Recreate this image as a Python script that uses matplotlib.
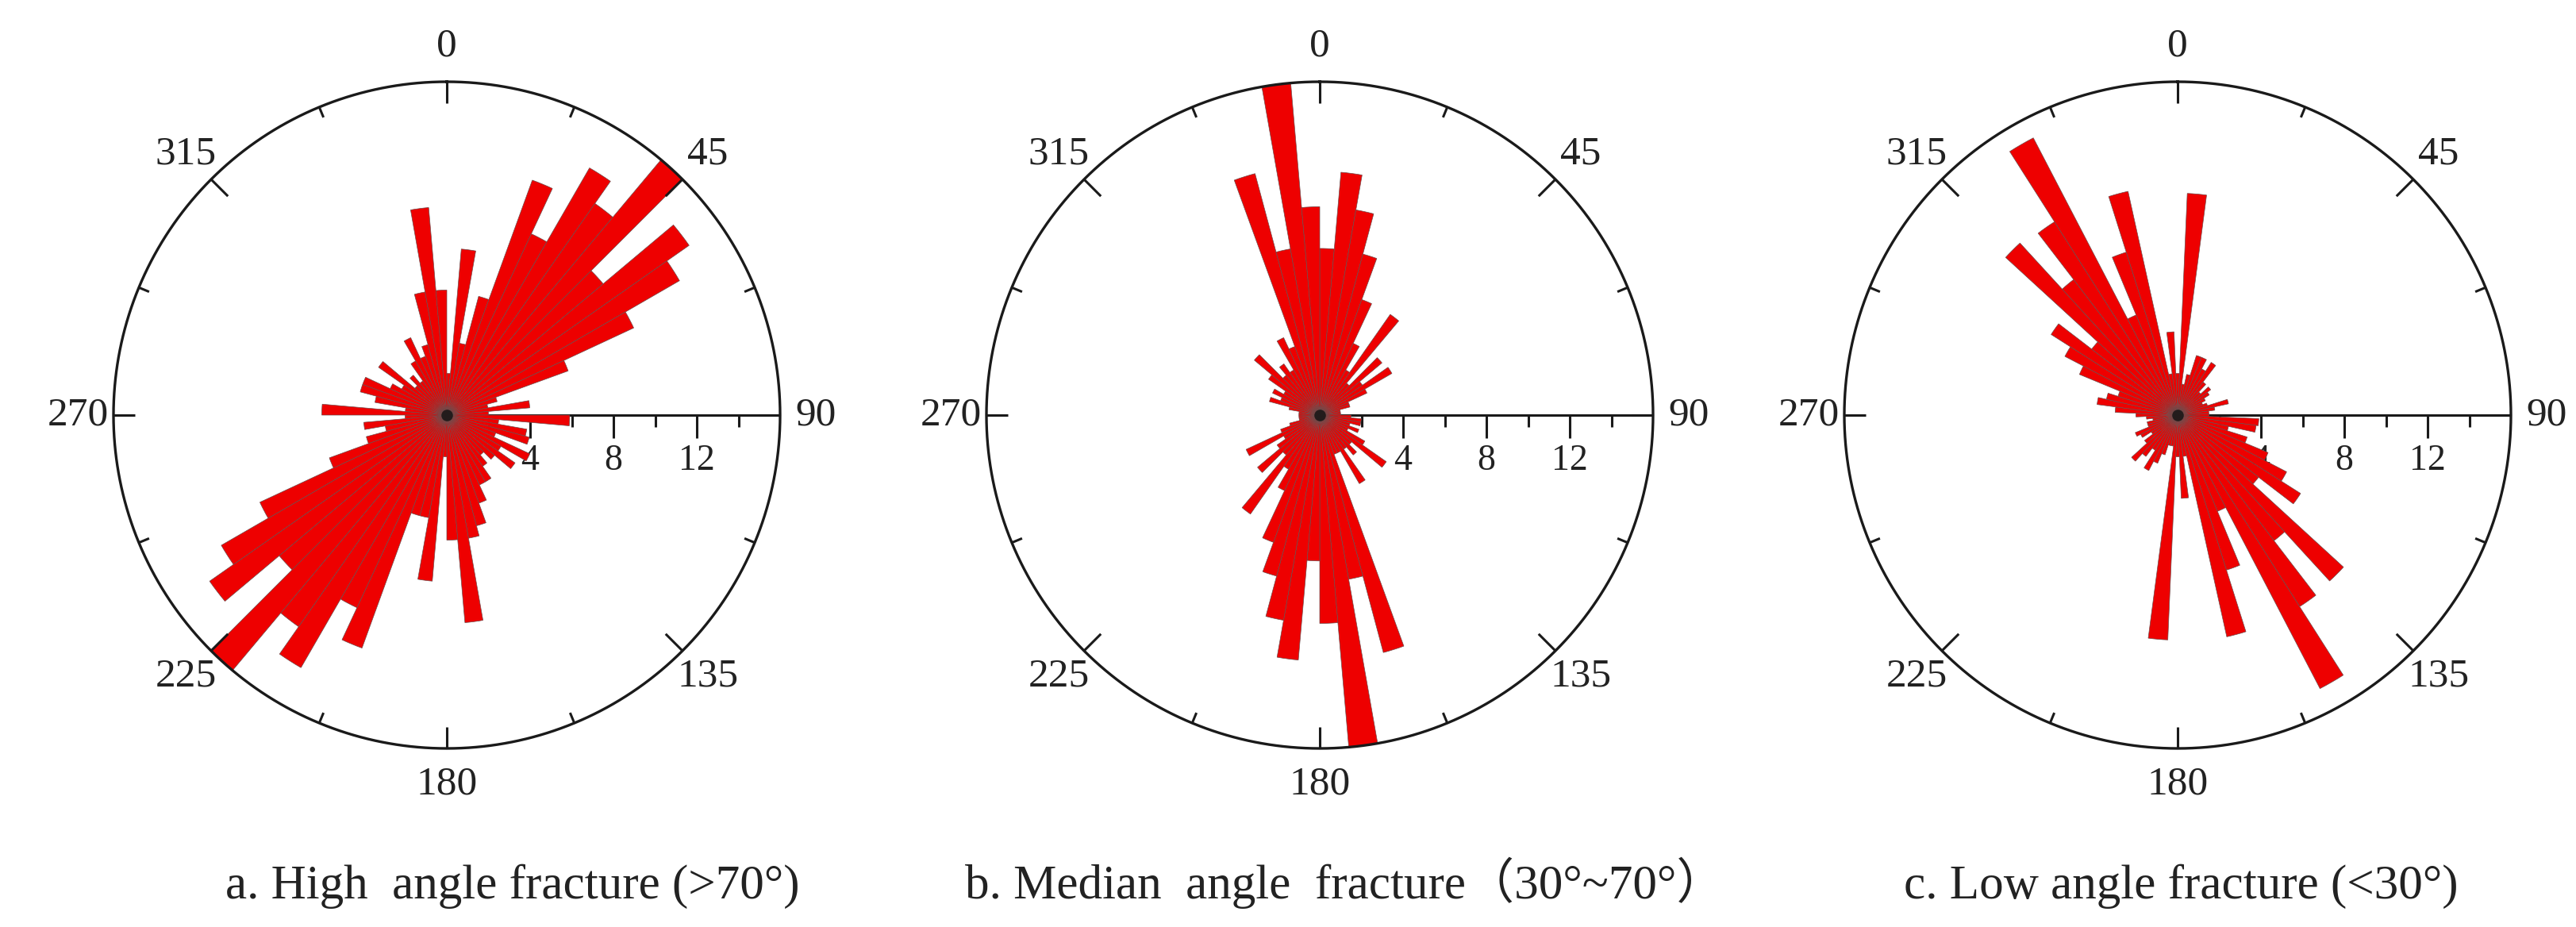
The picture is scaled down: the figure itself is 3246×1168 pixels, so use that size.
import numpy as np
import matplotlib
matplotlib.use("Agg")
import matplotlib.pyplot as plt

# ---------------- data (5-degree bins, counts) ----------------
a_bin_centers = np.arange(2.5, 360, 5)
a_counts = [2, 8, 3.5, 5.9, 12, 9.6, 13.7, 12.4, 16, 9.8, 14.2, 12.9, 9.9, 6.2, 2.5, 2, 4, 2,
            5.9, 2.5, 3.9, 4.1, 2.5, 4.4, 3, 4.0, 3, 2.5, 3, 3.7, 3.7, 4.5, 5.5, 6, 10, 6,
            2, 8, 5, 5, 11.9, 10.2, 14, 12.4, 16, 10.5, 13.9, 12.5, 9.9, 6, 4, 3, 4, 2,
            6, 2, 3.5, 4.3, 4.3, 3, 2.5, 4, 2, 2.5, 2, 3, 4.1, 3, 3.5, 6, 10, 6]

b_bin_centers = np.arange(2.5, 360, 5)
b_counts = [8, 11.7, 10, 8, 5.9, 3.8, 2.5, 5.9, 2, 3.9, 2.5, 4, 2.5, 1.5, 1.5, 1, 1, 1,
            1.5, 2, 2, 1.5, 2, 1.5, 2.5, 3.9, 2, 2.5, 2, 3.8, 2, 2, 11.8, 8, 16, 10,
            7, 11.8, 10, 8, 6.5, 4, 3, 5.8, 2.5, 3.9, 2.5, 2, 3.9, 2, 1.5, 1, 1, 1,
            1, 1, 1.5, 2.5, 2, 2.5, 2, 3, 4.1, 2.5, 3, 2.5, 4.1, 3.5, 12, 8.1, 16, 10]

c_bin_centers = np.arange(0, 360, 5)
c_counts = [2, 10.65, 1.5, 2, 3, 3, 2.5, 3, 2, 1.5, 2, 1.8, 1.5, 1.3, 1.5, 2.5, 1.8, 1.5,
            1.5, 3.9, 3.8, 2.5, 3.5, 4.7, 5.9, 7, 4.9, 10.8, 7.6, 10.9, 14.8, 5, 7.8, 10.9, 2, 4,
            2, 10.8, 1.5, 1.5, 2, 2.5, 3, 2, 2.5, 3, 2, 1.5, 2, 2.2, 1.5, 1.5, 1.2, 1.5,
            2, 3, 3.9, 3.5, 3, 5.1, 6.1, 7.2, 5.2, 11.2, 8.2, 11, 15, 5.2, 8.2, 11, 2, 4]

bin_width_deg = 5
r_max = 16
radial_ticks = [2, 4, 6, 8, 10, 12, 14]
radial_labels = [4, 8, 12]
angle_labels = [0, 45, 90, 135, 180, 225, 270, 315]

captions = ["a. High  angle fracture (>70°)",
            "b. Median  angle  fracture（30°~70°）",
            "c. Low angle fracture (<30°)"]

# ---------------- layout / style ----------------
W, H = 3246, 1168
R_PX = 420
PPU = R_PX / r_max
centers_px = [(563, 523), (1663, 523), (2744, 523)]
caption_x = [646, 1695, 2748]
caption_base = 1132
RED = "#EE0000"
EDGE = "#6E4B4B"
INK = "#1a1a1a"
SERIF = ["Liberation Serif", "Noto Sans CJK SC", "DejaVu Sans"]

fig = plt.figure(figsize=(W / 100, H / 100), dpi=100)
fig.patch.set_facecolor("white")


def to_polar(x, y):
    """cartesian (x east, y north, data units) -> (theta clockwise from N, r)"""
    return np.arctan2(x, y), np.hypot(x, y)


def rose(cx, cy, bin_centers, counts):
    ax = fig.add_axes([(cx - R_PX) / W, (H - cy - R_PX) / H, 2 * R_PX / W, 2 * R_PX / H],
                      projection="polar")
    ax.set_theta_zero_location("N")
    ax.set_theta_direction(-1)
    ax.set_ylim(0, r_max)
    ax.set_axis_off()

    # radial scale along 90 deg
    ax.plot([np.pi / 2, np.pi / 2], [0, r_max], color=INK, lw=2.2, zorder=1,
            solid_capstyle="butt")
    for rt in radial_ticks:
        L = (29 if rt % 4 == 0 else 15) / PPU
        t2, r2 = to_polar(rt, -L)
        ax.plot([np.pi / 2, t2], [rt, r2], color=INK, lw=2.2, zorder=1,
                solid_capstyle="butt")
    for rl in radial_labels:
        t, r = to_polar(rl, -58 / PPU)
        ax.text(t, r, str(rl), ha="center", va="center", fontsize=33,
                family=SERIF, color="#222222", zorder=1)

    # bars
    ax.bar(np.deg2rad(bin_centers), counts, width=np.deg2rad(bin_width_deg),
           color=RED, edgecolor=EDGE, linewidth=0.5, zorder=3, align="center")
    ax.scatter([0], [0], s=110, color="#151515", alpha=0.85, linewidths=0, zorder=4)

    # outer circle
    th = np.linspace(0, 2 * np.pi, 1441)
    ax.plot(th, np.full_like(th, r_max), color=INK, lw=2.4, zorder=5, clip_on=False)
    for k in range(16):
        ang = np.deg2rad(k * 22.5)
        if k % 4 == 0:
            L = 27
        elif k % 2 == 0:
            L = 30
        else:
            L = 14
        ax.plot([ang, ang], [r_max, r_max - L / PPU], color=INK, lw=2.2, zorder=5,
                solid_capstyle="butt")
    for a in angle_labels:
        ax.text(np.deg2rad(a), 465 / PPU, str(a), ha="center", va="center",
                fontsize=37, family=SERIF, color="#222222", clip_on=False)
    return ax


data = [(a_bin_centers, a_counts), (b_bin_centers, b_counts), (c_bin_centers, c_counts)]
for (cx, cy), (bc, cnt), cap, capx in zip(centers_px, data, captions, caption_x):
    rose(cx, cy, bc, cnt)
    fig.text(capx / W, 1 - caption_base / H, cap, ha="center", va="baseline",
             fontsize=44, family=SERIF, color="#222222")

fig.savefig("out.png", dpi=100, facecolor="white")
